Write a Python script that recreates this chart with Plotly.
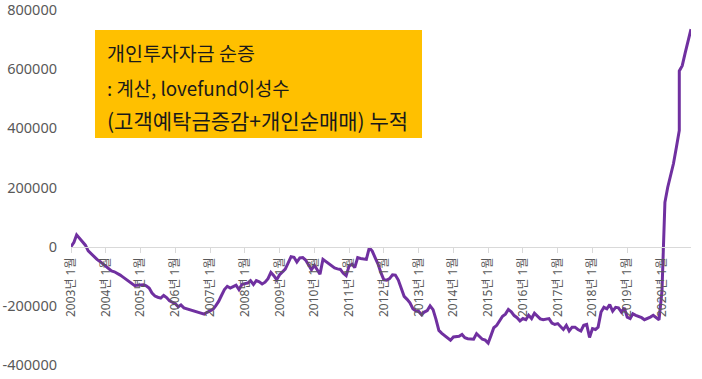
import pandas as pd
import plotly.graph_objects as go

# ---- data (units as in source chart) ----
vals_2003 = [0, 15, 40, 27, 15, 5, -14, -24, -33, -43, -50, -58]
vals_2004 = [-68, -75, -82, -85, -90, -96, -103, -110, -118, -125, -132, -130]
vals_2005 = [-129, -129, -132, -140, -157, -167, -171, -174, -165, -172, -183, -188]
vals_2006 = [-193, -203, -197, -207, -210, -212, -215, -217, -222, -225, -228, -222]
vals_2007 = [-218, -212, -200, -185, -165, -145, -134, -140, -135, -130, -145, -128]
vals_2008 = [-125, -123, -115, -128, -115, -119, -126, -120, -108, -87, -98, -112]
vals_2009 = [-95, -85, -76, -55, -34, -36, -52, -38, -37, -45, -62, -78]
vals_2010 = [-63, -80, -93, -43, -50, -56, -63, -72, -75, -77, -90, -98]
vals_2011 = [-65, -59, -71, -37, -40, -42, -43, -4, -15, -37, -59, -88]
vals_2012 = [-112, -113, -108, -95, -96, -113, -140, -168, -178, -190, -210, -217]
vals_2013 = [-219, -230, -221, -216, -200, -213, -245, -283, -293, -300, -310, -316]
vals_2014 = [-305, -305, -303, -297, -308, -311, -313, -313, -294, -305, -313, -316]
vals_2015 = [-326, -299, -274, -266, -250, -235, -228, -212, -220, -233, -240, -251]
vals_2016 = [-243, -247, -232, -243, -225, -236, -244, -247, -245, -243, -258, -263]
vals_2017 = [-260, -272, -280, -266, -285, -272, -272, -280, -285, -266, -263, -307]
vals_2018 = [-277, -280, -272, -221, -205, -210, -196, -218, -205, -207, -221, -207]
vals_2019 = [-238, -243, -227, -232, -236, -240, -247, -243, -238, -232, -240, -247]

dates_2020 = ["2020-01-01", "2020-02-01", "2020-03-01", "2020-04-01", "2020-05-01",
              "2020-06-01", "2020-07-01", "2020-07-01", "2020-08-01", "2020-09-01",
              "2020-10-01", "2020-11-01"]
vals_2020 = [-150, 150, 200, 240, 281, 337, 393, 594, 612, 655, 695, 735]

monthly_vals = (vals_2003 + vals_2004 + vals_2005 + vals_2006 + vals_2007 + vals_2008 +
                vals_2009 + vals_2010 + vals_2011 + vals_2012 + vals_2013 + vals_2014 +
                vals_2015 + vals_2016 + vals_2017 + vals_2018 + vals_2019)
monthly_dates = list(pd.date_range("2003-01-01", periods=len(monthly_vals), freq="MS").strftime("%Y-%m-%d"))

x_dates = monthly_dates + dates_2020
y_vals = [v * 1000 for v in monthly_vals + vals_2020]

tick_years = list(range(2003, 2021))
x_tickvals = [f"{y}-01-01" for y in tick_years]
x_ticktext = [f"{y}년 1월" for y in tick_years]

y_tickvals = [-400000, -200000, 0, 200000, 400000, 600000, 800000]
y_ticktext = ["-400000", "-200000", "0", "200000", "400000", "600000", "800000"]

title_lines = ["개인투자자금 순증", ": 계산, lovefund이성수", "(고객예탁금증감+개인순매매) 누적"]
title_sizes = [19.5, 18.8, 21]

FONT = "Noto Sans CJK KR"
TICKFONT = "Noto Sans, Noto Sans CJK KR"

fig = go.Figure()
fig.add_trace(go.Scatter(x=x_dates, y=y_vals, mode="lines",
                         line=dict(color="#7030A0", width=3), hoverinfo="skip"))

TOP, BOT, LEFT, RIGHT = 10, 14, 71, 11

fig.update_layout(
    width=702, height=379,
    margin=dict(l=LEFT, r=RIGHT, t=TOP, b=BOT),
    paper_bgcolor="white", plot_bgcolor="white",
    showlegend=False,
    font=dict(family=FONT, color="#595959"),
    xaxis=dict(
        type="date",
        range=[x_dates[0], x_dates[-1]],
        anchor="free", position=1/3, automargin=False,
        showgrid=False, zeroline=False,
        showline=True, linecolor="#D9D9D9", linewidth=1,
        ticks="outside", ticklen=5, tickcolor="#D9D9D9",
        tickvals=x_tickvals, ticktext=x_ticktext,
        tickangle=-90, tickfont=dict(size=12, color="#595959", family=TICKFONT),
    ),
    yaxis=dict(
        range=[-400000, 800000], automargin=False,
        showgrid=False, zeroline=False, showline=False,
        tickvals=y_tickvals, ticktext=y_ticktext,
        ticklabelstandoff=13, ticklabeloverflow="allow",
        tickfont=dict(size=14.5, color="#595959", family=TICKFONT),
    ),
)

# yellow text box (paper coords relative to plot area)
H = 379 - TOP - BOT
W = 702 - LEFT - RIGHT
def px(x):
    return (x - LEFT) / W
def py(y):
    return (379 - BOT - y) / H

fig.add_shape(type="rect", xref="paper", yref="paper",
              x0=px(95), x1=px(422), y0=py(138), y1=py(30),
              fillcolor="#FFC000", line=dict(width=0), layer="above")
for txt, yy, sz in zip(title_lines, [53, 87, 120], title_sizes):
    fig.add_annotation(xref="paper", yref="paper", x=px(105), y=py(yy),
                       xanchor="left", yanchor="middle", showarrow=False,
                       text=txt, font=dict(family=FONT, size=sz, color="#1a1a1a"))

fig.write_html("out.html")
